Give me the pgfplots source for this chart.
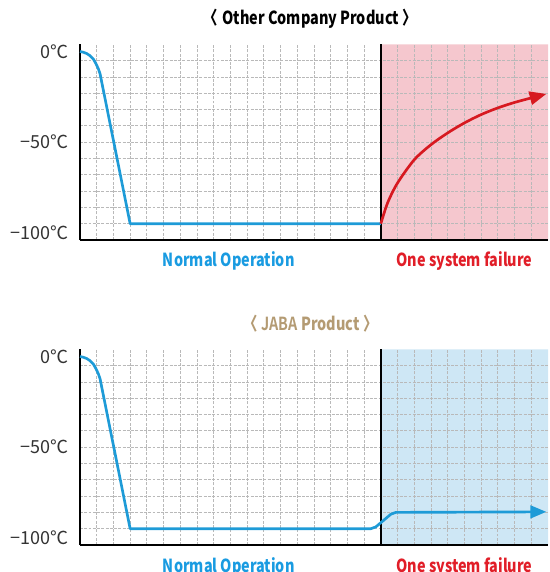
\documentclass[border=0pt]{standalone}
\usepackage{pgfplots}
\pgfplotsset{compat=1.18}
\usepackage{fontspec}
\setmainfont{Noto Sans CJK KR}
\newfontfamily\labelfont{Noto Sans CJK KR}[FakeStretch=0.8]
\newfontfamily\blackfont{Noto Sans CJK KR Black}[FakeStretch=0.8]
\usetikzlibrary{arrows.meta}
\definecolor{lineblue}{RGB}{30,155,215}
\definecolor{linered}{RGB}{215,25,32}
\definecolor{pinkfill}{RGB}{245,199,206}
\definecolor{bluefill}{RGB}{206,231,245}
\definecolor{txtblue}{RGB}{25,155,225}
\definecolor{txtred}{RGB}{225,30,40}
\definecolor{tan}{RGB}{180,155,115}
\definecolor{gridgray}{RGB}{185,185,185}
\pgfplotsset{panel/.style={
  set layers, scale only axis, width=351pt, height=146.8pt, anchor=south west,
  xmin=0, xmax=28, ymin=-104, ymax=4,
  axis lines*=left, axis line style={line width=2.2pt, black},
  xtick={1,...,27}, xticklabels={},
  ytick={-95,-86,...,-5}, yticklabels={},
  major tick length=0pt,
  grid=major, grid style={gridgray, line width=0.55pt, dash pattern=on 2.2pt off 1pt},
  extra y ticks={0,-50,-100}, extra y tick labels={0℃,−50℃,−100℃},
  extra y tick style={grid=none, major tick length=0pt},
  yticklabel style={font=\fontsize{13.5pt}{15pt}\selectfont, text=black!80, anchor=east, xshift=-5pt},
  clip=false,
}}
\tikzset{lbl/.style={font=\labelfont\fontsize{13.5pt}{15pt}\selectfont\bfseries}}
\begin{document}
\begin{tikzpicture}
% ---------- top panel ----------
\begin{axis}[panel, at={(60pt,-180pt)}]
\addplot[draw=none, fill=pinkfill, on layer=axis background] coordinates {(18,-104)(28,-104)(28,4)(18,4)(18,-104)};
\addplot[black, line width=1.7pt] coordinates {(18,-104)(18,4)};
\addplot[lineblue, line width=2pt, line join=round] coordinates {(0,0)(0.2,-0.4)(0.4,-1.1)(0.6,-2.3)(0.8,-4.2)(0.95,-6.6)(1.1,-9.6)(1.2,-12.3)(3,-95)(18,-95)};
\addplot[linered, line width=2pt, smooth, -{Triangle[length=12.5pt,width=10pt]}] coordinates {(18,-95)(18.4,-83.6)(19,-72.5)(20,-59.7)(21,-51.4)(22,-44.9)(23,-39.4)(24,-34.8)(25,-31.1)(26,-28.1)(27,-25.6)(27.9,-23.4)};
\node[lbl, text=txtblue] at (axis cs:8.9,-104) [yshift=-15.75pt] {Normal Operation};
\node[lbl, text=txtred] at (axis cs:23,-104) [yshift=-15.75pt] {One system failure};
\node[lbl, text=black] at (axis cs:13.8,4) [yshift=19pt] {〈\hspace{3pt}Other Company Product\hspace{3pt}〉};
\end{axis}
% ---------- bottom panel ----------
\begin{axis}[panel, at={(60pt,-408.75pt)}]
\addplot[draw=none, fill=bluefill, on layer=axis background] coordinates {(18,-104)(28,-104)(28,4)(18,4)(18,-104)};
\addplot[black, line width=1.7pt] coordinates {(18,-104)(18,4)};
\addplot[lineblue, line width=2pt, line join=round, -{Triangle[length=12pt,width=9.5pt]}] coordinates {(0,0)(0.2,-0.4)(0.4,-1.1)(0.6,-2.3)(0.8,-4.2)(0.95,-6.6)(1.1,-9.6)(1.2,-12.3)(3,-95)(17.4,-95)(17.7,-94)(18.6,-87)(18.9,-86)(27.9,-85.7)};
\node[lbl, text=txtblue] at (axis cs:8.9,-104) [yshift=-16.5pt] {Normal Operation};
\node[lbl, text=txtred] at (axis cs:23,-104) [yshift=-16.5pt] {One system failure};
\node[lbl, text=tan] at (axis cs:13.8,4) [yshift=19pt] {〈\hspace{3pt}{\blackfont JABA} Product\hspace{3pt}〉};
\end{axis}
\pgfresetboundingbox
\path (0,0) rectangle (412.5pt,-429pt);
\end{tikzpicture}
\end{document}
